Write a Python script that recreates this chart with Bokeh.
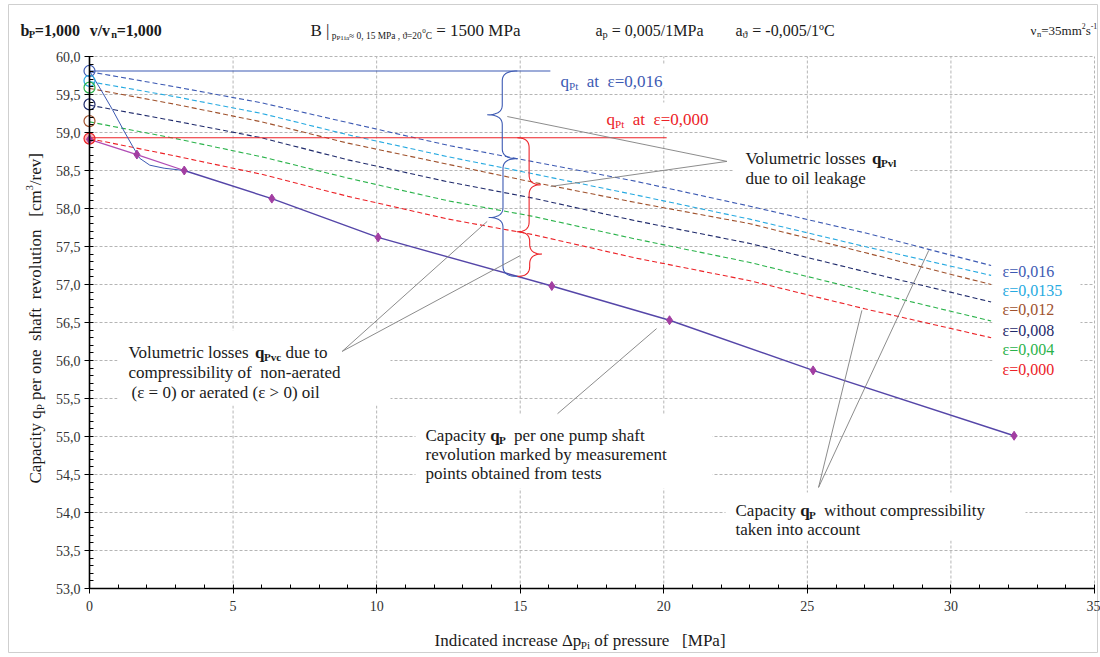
import numpy as np
from bokeh.plotting import figure
from bokeh.models import Range1d, Label, FixedTicker, CustomJSTickFormatter
from bokeh.embed import file_html
from bokeh.resources import INLINE

# ---------------- data ----------------
pressure_mpa = [0.0, 1.65, 3.3, 6.35, 10.05, 16.1, 20.2, 25.2, 32.2]
capacity_measured = [58.91, 58.71, 58.50, 58.13, 57.62, 56.98, 56.53, 55.87, 55.01]

transition_p = [0.0, 0.4, 0.8, 1.2, 1.5, 1.75, 2.1, 2.6, 3.3]
transition_q = [59.81, 59.56, 59.30, 59.02, 58.82, 58.66, 58.57, 58.53, 58.50]

model_p = [0, 3, 6, 9, 12.5, 15.4, 19, 23, 27, 31.4]
q_eps_0160 = [59.80, 59.60, 59.39, 59.13, 58.83, 58.62, 58.36, 58.03, 57.68, 57.25]
q_eps_0135 = [59.67, 59.47, 59.25, 58.97, 58.68, 58.46, 58.18, 57.86, 57.50, 57.12]
q_eps_0120 = [59.58, 59.37, 59.14, 58.86, 58.58, 58.35, 58.08, 57.80, 57.42, 57.00]
q_eps_0080 = [59.36, 59.15, 58.93, 58.64, 58.35, 58.14, 57.84, 57.54, 57.17, 56.77]
q_eps_0040 = [59.14, 58.92, 58.68, 58.40, 58.10, 57.90, 57.60, 57.29, 56.92, 56.52]
q_eps_0000 = [58.92, 58.69, 58.45, 58.16, 57.86, 57.66, 57.35, 57.05, 56.68, 56.30]
eps_labels = ["ε=0,016", "ε=0,0135", "ε=0,012", "ε=0,008", "ε=0,004", "ε=0,000"]

start_marker_q = [59.81, 59.68, 59.59, 59.37, 59.15, 58.92]

q_pt_016 = 59.81
q_pt_016_end = 16.05
q_pt_000 = 58.93
q_pt_000_end = 20.1
brace_p = 14.9

x_ticks = [0, 5, 10, 15, 20, 25, 30, 35]
y_ticks = [53.0, 53.5, 54.0, 54.5, 55.0, 55.5, 56.0, 56.5, 57.0, 57.5, 58.0, 58.5, 59.0, 59.5, 60.0]
x_minor = list(range(0, 36))
y_minor = [round(53 + 0.1 * i, 1) for i in range(71)]

# ---------------- styles ----------------
FONT = "Liberation Serif"
BLUE = "#3d5ab3"
CYAN = "#27aae1"
BROWN = "#a0522d"
NAVY = "#1f2a6b"
GREEN = "#2bb34b"
RED = "#ec2227"
LINE_PURPLE = "#5546a8"
LINE_PINK = "#b14db5"
MAGENTA = "#a23ea2"
GREY = "#7f7f7f"
TXT = "#1a1a1a"

eps_series = [q_eps_0160, q_eps_0135, q_eps_0120, q_eps_0080, q_eps_0040, q_eps_0000]
eps_colors = [BLUE, CYAN, BROWN, NAVY, GREEN, RED]
start_colors = [BLUE, CYAN, GREEN, NAVY, BROWN, RED]
start_fill_alpha = [0, 0, 0, 0, 0, 0.35]

# page geometry: 0 MPa at px 89, 35 MPa at px 1094; 60 at px 56, 76 px per unit
W, H = 1100, 657
SX = (1094.0 - 89.0) / 35.0
SY = 76.0

def X(px):
    return (px - 89.0) / SX

def Y(py):
    return 60.0 - (py - 56.0) / SY

CW = {}
for chars, w in [(" ", .25), ("ijlt/", .278), ("frI()[]-|", .333), ("sJ", .389),
                 ("aceεz", .444), ("bdghknopquvxyν0123456789", .5), ("ϑ", .55),
                 ("FPS", .556), ("ELTZ", .611), ("Δ", .612), ("BCR", .667),
                 ("ADGHKNOQUVXYw", .722), ("m", .778), ("M", .889), ("W", .944),
                 ("=><≈", .564), (",.", .25), ("º", .31)]:
    for ch in chars:
        CW[ch] = w

def tw(s, bold=False):
    return sum(CW.get(ch, 0.5) for ch in s) * (1.04 if bold else 1.0)

p = figure(width=W, height=H, x_range=Range1d(X(0), X(W)), y_range=Range1d(Y(H), Y(0)),
           output_backend="svg", toolbar_location=None,
           min_border_left=0, min_border_right=0, min_border_top=0, min_border_bottom=0,
           background_fill_color="white", border_fill_color="white", outline_line_color=None)
p.grid.visible = False

def rich(px, py, parts, size=17, color=TXT, vertical=False):
    x, y = X(px), Y(py)
    adv = 0.0
    for txt, sc, dy, bold in parts:
        fs = size * sc
        lead = len(txt) - len(txt.lstrip(" "))
        body = txt.strip(" ")
        off = adv + tw(" " * lead) * fs
        shift = dy * size
        if vertical:
            xo, yo = -shift, off
        else:
            xo, yo = off, shift
        if body:
            p.add_layout(Label(x=x, y=y, x_offset=xo, y_offset=yo, text=body,
                               angle=(np.pi / 2 if vertical else 0.0),
                               text_font=FONT, text_font_size=f"{fs:.1f}px",
                               text_font_style="bold" if bold else "normal",
                               text_color=color, text_baseline="alphabetic",
                               text_align="left"))
        adv += tw(txt, bold) * fs
    return adv

def N(t): return (t, 1.0, 0.0, False)
def B(t): return (t, 1.0, 0.0, True)
def S(t): return (t, 0.65, -0.25, False)
def BS(t): return (t, 0.65, -0.25, True)
def SP(t): return (t, 0.6, 0.38, False)

# ---------------- outer frame + grid ----------------
p.quad(left=[X(8)], right=[X(1097)], top=[Y(4)], bottom=[Y(652)],
       fill_color=None, line_color="#cfcfcf", line_width=1)

gx = [t for t in x_ticks if t > x_ticks[0]]
gy = [t for t in y_ticks if t > y_ticks[0]]
p.segment(x0=gx, y0=[y_ticks[0]] * len(gx), x1=gx, y1=[y_ticks[-1]] * len(gx),
          line_color="#b5b5b5", line_dash="3 2", line_width=1)
p.segment(x0=[x_ticks[0]] * len(gy), y0=gy, x1=[x_ticks[-1]] * len(gy), y1=gy,
          line_color="#b5b5b5", line_dash="3 2", line_width=1)

# white boxes behind the annotation texts (interrupt the grid)
boxes_px = [(117, 390, 330, 405), (415, 712, 414, 488), (725, 1025, 492, 540),
            (733, 910, 138, 188), (555, 670, 64, 88), (600, 716, 102, 126), (992, 1080, 252, 376)]
p.quad(left=[X(b[0]) for b in boxes_px], right=[X(b[1]) for b in boxes_px],
       top=[Y(b[2]) for b in boxes_px], bottom=[Y(b[3]) for b in boxes_px],
       fill_color="white", line_color=None)

# ---------------- axes ----------------
p.xaxis.ticker = FixedTicker(ticks=x_ticks, minor_ticks=x_minor)
p.yaxis.ticker = FixedTicker(ticks=y_ticks, minor_ticks=y_minor)
p.yaxis.formatter = CustomJSTickFormatter(code="return tick.toFixed(1).replace('.', ',');")
p.xaxis.fixed_location = y_ticks[0]
p.yaxis.fixed_location = x_ticks[0]
p.xaxis.bounds = (x_ticks[0], x_ticks[-1])
p.yaxis.bounds = (y_ticks[0], y_ticks[-1])
for ax in (p.xaxis, p.yaxis):
    ax.axis_line_color = "black"
    ax.axis_line_width = 1.6
    ax.major_tick_line_color = "black"
    ax.minor_tick_line_color = "black"
    ax.major_tick_out = 5
    ax.major_tick_in = 3
    ax.minor_tick_in = 4
    ax.minor_tick_out = 0
    ax.major_label_text_font = FONT
    ax.major_label_text_font_size = "14px"
    ax.major_label_text_color = "#333333"
p.yaxis.major_label_standoff = 4
p.xaxis.major_label_standoff = 7

# ---------------- data marks ----------------
for ys, col in zip(eps_series, eps_colors):
    p.line(model_p, ys, line_color=col, line_dash="5 3", line_width=1.1)

p.line([0, q_pt_016_end], [q_pt_016, q_pt_016], line_color=BLUE, line_width=1.1)
p.line([0, q_pt_000_end], [q_pt_000, q_pt_000], line_color=RED, line_width=1.1)

p.line(transition_p, transition_q, line_color=BLUE, line_width=1.0)
p.line(pressure_mpa[:3], capacity_measured[:3], line_color=LINE_PINK, line_width=1.3)
p.line(pressure_mpa[2:], capacity_measured[2:], line_color=LINE_PURPLE, line_width=1.4)

p.scatter([0.0] * len(start_marker_q), start_marker_q, marker="circle", size=11,
          fill_color=start_colors, fill_alpha=start_fill_alpha,
          line_color=start_colors, line_width=1.2)
p.scatter(pressure_mpa, capacity_measured, marker="diamond", size=9,
          fill_color=MAGENTA, line_color=MAGENTA)

# ---------------- braces ----------------
def qbez(p0, c, p1, n=14):
    t = np.linspace(0, 1, n)
    x = (1 - t) ** 2 * p0[0] + 2 * (1 - t) * t * c[0] + t ** 2 * p1[0]
    y = (1 - t) ** 2 * p0[1] + 2 * (1 - t) * t * c[1] + t ** 2 * p1[1]
    return list(x), list(y)

def brace(x0, depth, y1, y2, color):
    r = min(0.13, (y1 - y2) / 4.0)
    xm = x0 + depth / 2.0
    ym = (y1 + y2) / 2.0
    xs, ys = [], []
    for seg in [qbez((x0, y1), (xm, y1), (xm, y1 - r)),
                ([xm, xm], [y1 - r, ym + r]),
                qbez((xm, ym + r), (xm, ym), (x0 + depth, ym)),
                qbez((x0 + depth, ym), (xm, ym), (xm, ym - r)),
                ([xm, xm], [ym - r, y2 + r]),
                qbez((xm, y2 + r), (xm, y2), (x0, y2))]:
        xs += list(seg[0])
        ys += list(seg[1])
    p.line(xs, ys, line_color=color, line_width=1.1)

q_blue_at_brace = float(np.interp(brace_p, model_p, q_eps_0160))
q_red_at_brace = float(np.interp(brace_p, model_p, q_eps_0000))
q_meas_at_brace = float(np.interp(brace_p, pressure_mpa, capacity_measured))
brace(brace_p, -1.05, q_pt_016, q_blue_at_brace, BLUE)
brace(brace_p, -1.0, q_blue_at_brace, q_meas_at_brace, BLUE)
brace(brace_p, 0.82, q_pt_000, q_red_at_brace, RED)
brace(brace_p, 0.86, q_red_at_brace, q_meas_at_brace, RED)

# ---------------- leader lines ----------------
leaders = [((22.2, 58.62), (14.55, 59.21)), ((22.2, 58.62), (16.06, 58.29)),
           ((8.8, 56.12), (13.85, 57.83)), ((8.8, 56.12), (15.0, 57.38)),
           ((16.3, 55.3), (19.75, 56.42)),
           ((25.39, 54.33), (26.9, 56.66)), ((25.39, 54.33), (29.23, 57.45))]
p.segment(x0=[a[0][0] for a in leaders], y0=[a[0][1] for a in leaders],
          x1=[a[1][0] for a in leaders], y1=[a[1][1] for a in leaders],
          line_color=GREY, line_width=0.9)

# ---------------- texts ----------------
# header
rich(20, 30, [B("b"), BS("P"), B("=1,000"), B("  v/v"), BS("n"), B("=1,000")], size=16)
rich(310, 30, [N("B"), N(" |"), ("p", 0.55, -0.35, False), ("P1ia", 0.42, -0.45, False),
               ("≈ 0, 15 MPa , ϑ=20", 0.55, -0.35, False), ("0", 0.42, -0.05, False),
               ("C", 0.55, -0.35, False), N(" = 1500 MPa")], size=17)
rich(595, 30, [N("a"), S("p"), N(" = 0,005/1MPa")], size=16)
rich(735, 30, [N("a"), S("ϑ"), N(" = -0,005/1ºC")], size=16)
rich(1030, 30, [N("ν"), S("n"), N("=35mm"), SP("2"), N("s"), SP("-1")], size=13)

# q_Pt labels
rich(560, 81, [N("q"), S("Pt"), N("  at"), N("  ε=0,016")], size=17, color=BLUE)
rich(606, 119, [N("q"), S("Pt"), N("  at"), N("  ε=0,000")], size=17, color=RED)

# volumetric losses (leakage)
rich(745, 158, [N("Volumetric losses "), B("q"), BS("Pvl")])
rich(745, 178, [N("due to oil leakage")])

# volumetric losses (compressibility)
rich(128, 352, [N("Volumetric losses "), B("q"), BS("Pvc"), N(" due to")])
rich(128, 372, [N("compressibility of"), N("  non-aerated")])
rich(131, 392, [N("(ε = 0) or aerated (ε > 0) oil")])

# measured capacity
rich(425, 435, [N("Capacity "), B("q"), BS("P"), N("  per one pump shaft")])
rich(425, 454, [N("revolution marked by measurement")])
rich(425, 473, [N("points obtained from tests")])

# capacity without compressibility
rich(735, 510, [N("Capacity "), B("q"), BS("P"), N("  without compressibility")])
rich(735, 529, [N("taken into account")])

# epsilon labels
for lab, col, by in zip(eps_labels, eps_colors, [271, 290, 309, 330, 349, 369]):
    rich(1002, by, [N(lab)], size=16, color=col)

# axis titles
rich(434, 640, [N("Indicated increase Δp"), S("Pi"), N(" of pressure"), N("   [MPa]")], size=17)
rich(35, 483, [N("Capacity"), N(" q"), S("P"), N(" per one"), N("  shaft"), N("  revolution"),
               N("   [cm"), SP("3"), N("/rev]")], size=17, vertical=True)

open("out.html", "w").write(file_html(p, INLINE))
